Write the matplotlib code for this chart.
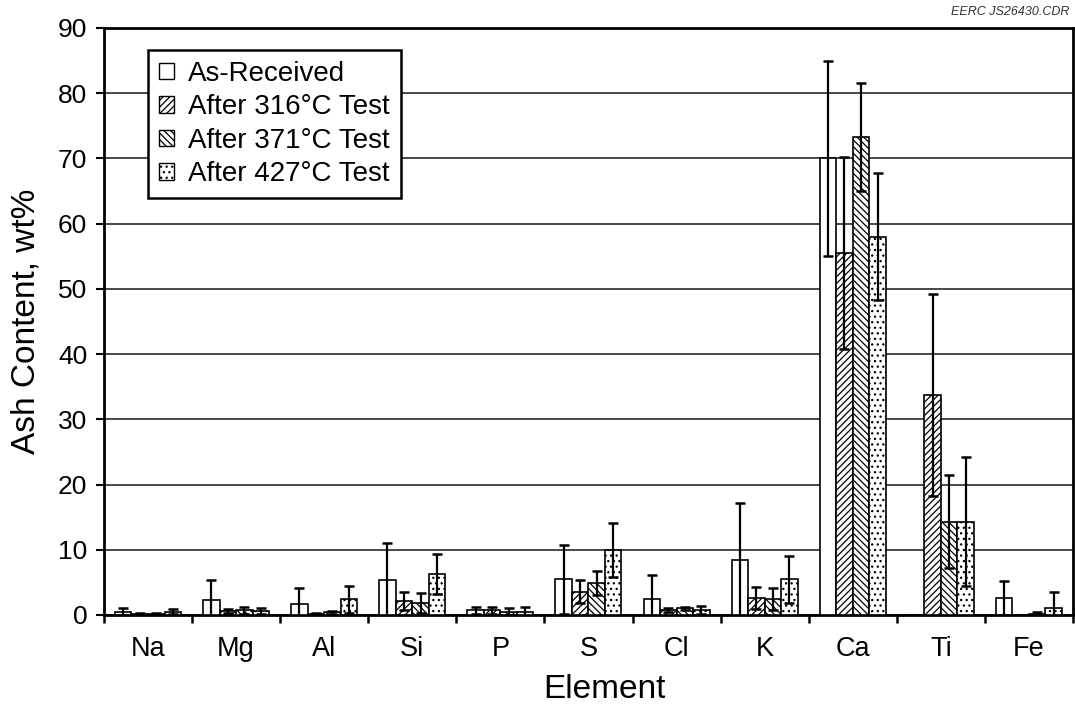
import numpy as np
import matplotlib
matplotlib.use("Agg")
import matplotlib.pyplot as plt
from matplotlib.patches import Patch

plt.rcParams['font.family'] = ['Liberation Sans', 'DejaVu Sans']
plt.rcParams['hatch.linewidth'] = 0.9

elements = ["Na", "Mg", "Al", "Si", "P", "S", "Cl", "K", "Ca", "Ti", "Fe"]
series_names = ["As-Received", "After 316\u00b0C Test", "After 371\u00b0C Test", "After 427\u00b0C Test"]

as_received = [0.5, 2.3, 1.7, 5.4, 0.7, 5.5, 2.4, 8.5, 70.0, 0.0, 2.6]
as_received_err = [0.5, 3.1, 2.5, 5.6, 0.6, 5.3, 3.8, 8.6, 15.0, 0.0, 2.6]
after_316 = [0.2, 0.6, 0.2, 2.2, 0.7, 3.6, 0.8, 2.6, 55.5, 33.7, 0.0]
after_316_err = [0.1, 0.3, 0.1, 1.4, 0.6, 1.7, 0.3, 1.7, 14.7, 15.5, 0.0]
after_371 = [0.2, 0.7, 0.4, 1.8, 0.5, 4.9, 1.0, 2.4, 73.3, 14.3, 0.2]
after_371_err = [0.1, 0.5, 0.2, 1.5, 0.5, 1.9, 0.3, 1.7, 8.3, 7.1, 0.2]
after_427 = [0.5, 0.6, 2.4, 6.3, 0.5, 10.0, 0.8, 5.5, 58.0, 14.3, 1.1]
after_427_err = [0.4, 0.4, 2.1, 3.1, 0.8, 4.1, 0.6, 3.6, 9.7, 9.9, 2.5]

values = [as_received, after_316, after_371, after_427]
errors = [as_received_err, after_316_err, after_371_err, after_427_err]
hatches = [None, "/////", "\\\\\\\\\\", "..."]

fig = plt.figure(figsize=(10.75, 7.09), dpi=100)
ax = fig.add_axes([0.0967, 0.1326, 0.9014, 0.828])

x = np.arange(len(elements))
w = 0.1875
offsets = (np.arange(4) - 1.5) * w

for i in range(4):
    v = np.array(values[i], dtype=float)
    e = np.array(errors[i], dtype=float)
    ax.bar(x + offsets[i], v, width=w, facecolor="white", edgecolor="black",
           linewidth=1.2, hatch=hatches[i], zorder=3)
    mask = e > 0
    ax.errorbar(x[mask] + offsets[i], v[mask], yerr=e[mask], fmt="none",
                ecolor="black", elinewidth=1.6, capsize=3.5, capthick=1.8, zorder=4)

ax.set_xlim(-0.5, len(elements) - 0.5)
ax.set_ylim(0, 90)
ax.set_yticks(np.arange(0, 91, 10))
ax.yaxis.grid(True, color="#3a3a3a", linewidth=1.3)
ax.set_axisbelow(True)

ax.set_xticks(x)
ax.set_xticklabels(elements)
ax.set_xticks(np.arange(-0.5, len(elements), 1.0), minor=True)
ax.tick_params(axis="x", which="major", length=0, labelsize=19.5, pad=15)
ax.tick_params(axis="x", which="minor", length=6, width=1.8, direction="out")
ax.tick_params(axis="y", length=6, width=1.5, labelsize=19, pad=6)

for s in ax.spines.values():
    s.set_linewidth(2.0)

ax.set_ylabel("Ash Content, wt%", fontsize=24, labelpad=12)
ax.set_xlabel("Element", fontsize=24)
ax.xaxis.set_label_coords(0.516, -0.1)

handles = [Patch(facecolor="white", edgecolor="black", hatch=hatches[i], linewidth=1.0)
           for i in range(4)]
leg = ax.legend(handles, series_names, loc="upper left", bbox_to_anchor=(0.045, 0.963),
                borderaxespad=0, fontsize=20, frameon=True, fancybox=False,
                framealpha=1, edgecolor="black", handlelength=0.55, handleheight=0.55,
                handletextpad=0.5, labelspacing=0.27, borderpad=0.4)
leg.get_frame().set_linewidth(1.8)
leg.set_zorder(5)

fig.text(0.995, 0.975, "EERC JS26430.CDR", ha="right", va="bottom",
         fontsize=9, style="italic", color="#333333")

fig.savefig("out.png", dpi=100)
